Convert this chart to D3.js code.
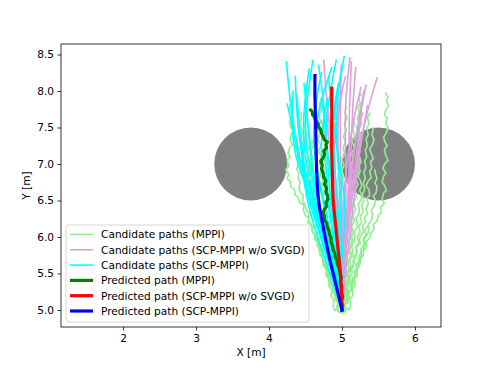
<!DOCTYPE html>
<html>
<head>
<meta charset="utf-8">
<script src="https://cdn.jsdelivr.net/npm/d3@7"></script>
<style>
	body { margin: 0; background: #fff; }
	text { font-family: "DejaVu Sans", sans-serif; }
</style>
</head>
<body>
<svg id="mainsvg" width="490" height="368"></svg>
<script>
var xTicks = [2, 3, 4, 5, 6];
var yTicks = [5.0, 5.5, 6.0, 6.5, 7.0, 7.5, 8.0, 8.5];

// obstacles: [cx, cy, r]
var obstacles = [[3.75, 7.0, 0.5], [5.5, 7.0, 0.5]];

var legendLabels = [
	"Candidate paths (MPPI)",
	"Candidate paths (SCP-MPPI w/o SVGD)",
	"Candidate paths (SCP-MPPI)",
	"Predicted path (MPPI)",
	"Predicted path (SCP-MPPI w/o SVGD)",
	"Predicted path (SCP-MPPI)"
];

// MPPI candidates (flat x,y lists)
var mppiCandidates = [
	[5,5, 4.98,5.04, 4.95,5.03, 4.94,5.1, 4.96,5.16, 4.91,5.2, 4.89,5.29, 4.9,5.33, 4.85,5.36, 4.83,5.45, 4.8,5.47, 4.81,5.55, 4.76,5.6, 4.77,5.64, 4.73,5.7, 4.71,5.79, 4.74,5.84, 4.69,5.86, 4.66,5.94, 4.63,5.96, 4.62,6.05, 4.59,6.07, 4.58,6.15, 4.53,6.2, 4.55,6.26, 4.5,6.29, 4.47,6.37, 4.48,6.44, 4.42,6.47, 4.4,6.55, 4.36,6.57, 4.35,6.65, 4.3,6.69, 4.29,6.76, 4.25,6.8, 4.27,6.86, 4.23,6.92, 4.27,6.97, 4.25,7.05, 4.29,7.1, 4.26,7.14, 4.28,7.22, 4.32,7.26, 4.29,7.33, 4.3,7.4, 4.34,7.45, 4.3,7.5, 4.28,7.58, 4.32,7.63, 4.31,7.7, 4.27,7.74, 4.3,7.82, 4.29,7.9],
	[5,5, 5.02,5.04, 5.05,5.05, 5.04,5.12, 5.08,5.16, 5.09,5.24, 5.13,5.27, 5.12,5.35, 5.16,5.39, 5.18,5.46, 5.17,5.53, 5.22,5.57, 5.25,5.64, 5.24,5.7, 5.29,5.74, 5.3,5.82, 5.34,5.86, 5.33,5.93, 5.38,5.99, 5.4,6.06, 5.44,6.1, 5.43,6.17, 5.48,6.22, 5.5,6.3, 5.54,6.33, 5.53,6.41, 5.58,6.46, 5.55,6.52, 5.57,6.6, 5.61,6.64, 5.58,6.71, 5.55,6.75, 5.57,6.83, 5.6,6.88, 5.56,6.94, 5.59,7.01, 5.63,7.05, 5.6,7.12, 5.58,7.2, 5.62,7.25, 5.59,7.3, 5.57,7.37, 5.61,7.43, 5.63,7.5, 5.6,7.56, 5.62,7.63, 5.58,7.67, 5.6,7.74, 5.64,7.8, 5.61,7.86, 5.63,7.92, 5.6,7.97],
	[5,5, 5.01,5.05, 4.99,5.1, 5.03,5.14, 5.04,5.22, 5.02,5.27, 5.06,5.31, 5.07,5.39, 5.11,5.42, 5.1,5.5, 5.13,5.56, 5.16,5.6, 5.15,5.68, 5.19,5.72, 5.21,5.8, 5.2,5.87, 5.25,5.9, 5.24,5.98, 5.27,6.04, 5.3,6.07, 5.28,6.15, 5.32,6.2, 5.31,6.28, 5.35,6.31, 5.33,6.39, 5.36,6.45, 5.34,6.53, 5.38,6.57, 5.37,6.65, 5.33,6.7, 5.36,6.77, 5.4,6.81, 5.38,6.9, 5.41,6.95, 5.39,7.03, 5.43,7.07, 5.4,7.15, 5.38,7.2, 5.42,7.27, 5.44,7.34, 5.41,7.4, 5.43,7.5],
	[5,5, 4.99,5.06, 4.96,5.09, 4.97,5.17, 4.93,5.21, 4.92,5.29, 4.94,5.34, 4.89,5.38, 4.88,5.46, 4.85,5.5, 4.86,5.58, 4.82,5.62, 4.8,5.7, 4.81,5.76, 4.77,5.8, 4.76,5.88, 4.73,5.93, 4.74,6.0, 4.7,6.05, 4.68,6.13, 4.69,6.19, 4.65,6.24, 4.63,6.32, 4.65,6.38, 4.6,6.42, 4.58,6.5, 4.59,6.57, 4.55,6.6, 4.53,6.68, 4.55,6.75, 4.51,6.8, 4.52,6.87, 4.49,6.92, 4.48,7.0, 4.51,7.06, 4.47,7.11, 4.46,7.19, 4.49,7.25, 4.45,7.3, 4.44,7.38, 4.47,7.44, 4.43,7.5, 4.42,7.57, 4.45,7.63, 4.44,7.7],
	[5,5, 5.01,5.07, 4.97,5.13, 4.99,5.22, 4.95,5.28, 4.96,5.37, 4.92,5.43, 4.93,5.52, 4.89,5.58, 4.9,5.67, 4.86,5.74, 4.87,5.83, 4.83,5.9, 4.84,5.99, 4.8,6.05, 4.82,6.14, 4.78,6.2, 4.8,6.3, 4.76,6.37, 4.78,6.46, 4.74,6.52, 4.76,6.62, 4.72,6.68, 4.74,6.78, 4.7,6.85, 4.73,6.94, 4.69,7.0, 4.72,7.1, 4.68,7.17, 4.71,7.26, 4.67,7.33, 4.7,7.42, 4.67,7.5, 4.71,7.58, 4.68,7.66, 4.72,7.74, 4.69,7.82, 4.72,7.9],
	[5,5, 5.02,5.07, 4.99,5.14, 5.02,5.22, 4.98,5.3, 5.01,5.38, 4.97,5.45, 5.0,5.54, 4.96,5.61, 4.99,5.7, 4.95,5.78, 4.98,5.86, 4.94,5.93, 4.97,6.02, 4.93,6.1, 4.97,6.18, 4.94,6.26, 4.98,6.34, 4.95,6.42, 4.99,6.5, 4.96,6.58, 5.0,6.66, 4.97,6.74, 5.02,6.82, 4.99,6.9, 5.03,6.98, 5.0,7.06, 5.04,7.14, 5.01,7.22, 5.05,7.3, 5.02,7.38, 5.06,7.46, 5.03,7.55, 5.07,7.63, 5.04,7.7, 5.06,7.78],
	[5,5, 5.01,5.06, 5.04,5.12, 5.02,5.2, 5.06,5.27, 5.05,5.35, 5.08,5.42, 5.06,5.5, 5.1,5.57, 5.08,5.66, 5.12,5.73, 5.1,5.82, 5.14,5.9, 5.12,5.98, 5.16,6.06, 5.13,6.14, 5.17,6.22, 5.15,6.3, 5.19,6.38, 5.16,6.47, 5.2,6.55, 5.18,6.64, 5.22,6.72, 5.19,6.8, 5.23,6.88, 5.2,6.97, 5.24,7.05, 5.21,7.14, 5.25,7.22, 5.22,7.3, 5.26,7.38, 5.23,7.47, 5.27,7.55, 5.24,7.63, 5.27,7.72, 5.25,7.8],
	[5,5, 4.98,5.06, 5.0,5.12, 4.97,5.2, 4.99,5.27, 4.95,5.34, 4.97,5.42, 4.93,5.48, 4.95,5.57, 4.91,5.63, 4.93,5.72, 4.89,5.79, 4.92,5.87, 4.88,5.94, 4.9,6.03, 4.86,6.1, 4.89,6.18, 4.85,6.26, 4.88,6.35, 4.84,6.42, 4.87,6.5, 4.83,6.58, 4.86,6.67, 4.83,6.75, 4.87,6.83, 4.84,6.92, 4.88,7.0, 4.85,7.08, 4.89,7.17, 4.86,7.25, 4.9,7.33, 4.87,7.42, 4.91,7.5, 4.88,7.58, 4.92,7.67, 4.89,7.75, 4.91,7.85],
	[5,5, 4.97,5.05, 4.98,5.12, 4.94,5.17, 4.95,5.26, 4.9,5.3, 4.91,5.39, 4.86,5.44, 4.88,5.53, 4.83,5.58, 4.84,5.67, 4.79,5.72, 4.81,5.8, 4.76,5.86, 4.77,5.95, 4.72,6.0, 4.74,6.09, 4.69,6.14, 4.71,6.23, 4.66,6.28, 4.68,6.37, 4.63,6.42, 4.65,6.51, 4.6,6.56, 4.62,6.65, 4.58,6.7, 4.6,6.8, 4.56,6.86, 4.59,6.95, 4.56,7.02, 4.6,7.1, 4.57,7.18, 4.61,7.25, 4.6,7.32],
	[5,5, 5.02,5.03, 5.04,5.1, 5.07,5.13, 5.07,5.21, 5.11,5.25, 5.13,5.33, 5.12,5.39, 5.16,5.43, 5.18,5.5, 5.21,5.54, 5.21,5.62, 5.25,5.66, 5.27,5.74, 5.26,5.8, 5.3,5.84, 5.32,5.92, 5.31,5.99, 5.35,6.03, 5.37,6.1, 5.36,6.17, 5.4,6.22, 5.42,6.3, 5.4,6.37, 5.44,6.42, 5.46,6.5, 5.43,6.56, 5.47,6.61, 5.48,6.69, 5.45,6.74, 5.48,6.8, 5.46,6.87, 5.45,6.92],
	[5,5, 4.97,5.03, 4.96,5.1, 4.93,5.13, 4.92,5.21, 4.88,5.25, 4.88,5.32, 4.84,5.36, 4.82,5.44, 4.83,5.5, 4.79,5.53, 4.77,5.61, 4.74,5.65, 4.74,5.73, 4.7,5.77, 4.68,5.85, 4.69,5.91, 4.65,5.95, 4.63,6.03, 4.6,6.07, 4.6,6.15, 4.56,6.19, 4.54,6.27, 4.55,6.33, 4.51,6.37, 4.49,6.45, 4.46,6.49, 4.47,6.57, 4.43,6.61, 4.41,6.69, 4.43,6.75, 4.4,6.8, 4.41,6.88, 4.38,6.93, 4.4,7.0, 4.42,7.06, 4.39,7.12, 4.4,7.19, 4.38,7.26],
	[5,5, 5.0,5.07, 5.03,5.14, 5.0,5.22, 5.04,5.3, 5.01,5.38, 5.05,5.46, 5.02,5.55, 5.06,5.62, 5.04,5.71, 5.08,5.78, 5.05,5.87, 5.09,5.94, 5.06,6.03, 5.1,6.1, 5.07,6.19, 5.11,6.26, 5.08,6.35, 5.12,6.42, 5.09,6.51, 5.13,6.58, 5.1,6.67, 5.14,6.74, 5.11,6.83, 5.15,6.9, 5.12,6.99, 5.16,7.06, 5.13,7.15, 5.17,7.22, 5.14,7.31, 5.18,7.38, 5.15,7.47, 5.17,7.55, 5.15,7.62],
	[5,5, 5.04,4.98, 5.07,5.03, 5.1,5.0, 5.12,5.07, 5.11,5.15, 5.15,5.2, 5.14,5.28, 5.18,5.33, 5.17,5.42, 5.21,5.47, 5.2,5.56, 5.24,5.61, 5.23,5.7, 5.27,5.75, 5.26,5.84, 5.3,5.89, 5.29,5.98, 5.33,6.03, 5.32,6.1, 5.36,6.16],
	[5,5, 4.96,4.97, 4.93,5.02, 4.9,4.99, 4.88,5.06, 4.89,5.14, 4.85,5.19, 4.86,5.28, 4.82,5.33, 4.83,5.42, 4.78,5.47, 4.79,5.56, 4.74,5.61, 4.75,5.7, 4.7,5.75, 4.71,5.84, 4.66,5.88, 4.67,5.97, 4.63,6.02],
	[5,5, 5.02,5.05, 4.99,5.11, 5.0,5.2, 4.96,5.25, 4.97,5.35, 4.93,5.41, 4.95,5.5, 4.91,5.56, 4.93,5.65, 4.89,5.71, 4.9,5.8, 4.87,5.86, 4.88,5.95, 4.85,6.01, 4.86,6.1, 4.82,6.16, 4.84,6.25, 4.8,6.31, 4.82,6.4, 4.78,6.46, 4.8,6.55, 4.77,6.61, 4.79,6.7, 4.76,6.76, 4.79,6.85, 4.75,6.91, 4.78,7.0, 4.75,7.06, 4.79,7.15, 4.76,7.21, 4.8,7.3, 4.77,7.36, 4.81,7.45, 4.78,7.51, 4.81,7.6, 4.8,7.66],
	[5,5, 5.02,5.06, 5.05,5.1, 5.04,5.18, 5.08,5.23, 5.08,5.31, 5.11,5.37, 5.1,5.45, 5.14,5.5, 5.13,5.59, 5.17,5.64, 5.16,5.73, 5.2,5.78, 5.19,5.87, 5.23,5.92, 5.21,6.01, 5.25,6.06, 5.23,6.15, 5.27,6.2, 5.25,6.29, 5.29,6.34, 5.27,6.43, 5.3,6.5, 5.28,6.58, 5.31,6.65, 5.29,6.74, 5.32,6.8, 5.3,6.89, 5.33,6.95, 5.31,7.04, 5.34,7.1, 5.32,7.19, 5.35,7.25, 5.33,7.34, 5.36,7.4, 5.34,7.49, 5.37,7.55, 5.35,7.63, 5.38,7.7],
	[5,5, 4.98,4.96, 4.95,4.98, 4.93,5.05, 4.95,5.1, 4.91,5.14, 4.9,5.22, 4.86,5.25, 4.87,5.33, 4.83,5.37, 4.81,5.45, 4.83,5.5, 4.79,5.55, 4.77,5.63, 4.74,5.66, 4.75,5.74, 4.72,5.78],
	[5,5, 5.03,4.96, 5.05,5.0, 5.04,5.07, 5.08,5.1, 5.1,5.18, 5.09,5.25, 5.13,5.28, 5.15,5.36, 5.14,5.43, 5.18,5.47, 5.2,5.55, 5.19,5.62, 5.23,5.66, 5.24,5.74, 5.26,5.8],
	[5,5, 5.01,4.95, 5.03,5.01, 5.0,5.06, 5.02,5.13, 5.05,5.17, 5.03,5.25, 5.06,5.3, 5.05,5.38, 5.09,5.43, 5.07,5.5, 5.1,5.57, 5.08,5.63, 5.11,5.7, 5.13,5.77, 5.1,5.83, 5.12,5.9, 5.15,5.96, 5.12,6.02, 5.14,6.1, 5.11,6.16, 5.13,6.24, 5.16,6.3, 5.13,6.36, 5.15,6.44, 5.12,6.5, 5.1,6.58, 5.13,6.64, 5.11,6.72, 5.08,6.78, 5.11,6.85, 5.1,6.92],
	[5,5, 4.97,5.06, 4.98,5.14, 4.95,5.2, 4.93,5.28, 4.94,5.35, 4.9,5.41, 4.89,5.49, 4.85,5.54, 4.86,5.62, 4.82,5.67, 4.8,5.75, 4.81,5.82, 4.77,5.87, 4.75,5.95, 4.76,6.02, 4.72,6.08, 4.7,6.16, 4.71,6.23, 4.67,6.28, 4.65,6.36, 4.66,6.43, 4.62,6.48, 4.6,6.56, 4.62,6.63, 4.58,6.68, 4.57,6.76, 4.59,6.83, 4.55,6.88, 4.54,6.96, 4.57,7.02, 4.53,7.08, 4.52,7.16, 4.55,7.22, 4.51,7.28, 4.5,7.36, 4.53,7.42, 4.5,7.48, 4.49,7.56, 4.52,7.62, 4.49,7.68, 4.5,7.76, 4.53,7.82, 4.5,7.88, 4.52,7.95],
	[5,5, 5.02,5.05, 5.01,5.12, 5.05,5.17, 5.06,5.25, 5.04,5.31, 5.08,5.36, 5.09,5.44, 5.07,5.5, 5.11,5.55, 5.12,5.63, 5.1,5.69, 5.14,5.74, 5.15,5.82, 5.13,5.88, 5.17,5.93, 5.18,6.01, 5.16,6.07, 5.2,6.12, 5.21,6.2, 5.19,6.26, 5.23,6.31, 5.24,6.39, 5.22,6.45, 5.26,6.5, 5.27,6.58, 5.24,6.64, 5.27,6.7, 5.25,6.78, 5.22,6.83, 5.25,6.9, 5.23,6.97, 5.26,7.03, 5.24,7.1, 5.21,7.16, 5.24,7.23, 5.22,7.3, 5.25,7.36, 5.23,7.43, 5.2,7.5, 5.23,7.56, 5.21,7.63, 5.24,7.7, 5.22,7.77, 5.25,7.83, 5.23,7.9, 5.26,7.96]
];

// SCP-MPPI w/o SVGD candidates (control points)
var noSvgdCandidates = [
	[[5,5],[4.98,5.7],[4.93,6.4],[4.88,7.1],[4.8,7.8],[4.75,8.42]],
	[[5,5],[5.02,5.7],[5.05,6.4],[5.05,7.1],[5.05,7.8],[5.11,8.45]],
	[[5,5],[5.03,5.7],[5.08,6.4],[5.12,7.1],[5.15,7.8],[5.19,8.32]],
	[[5,5],[5.05,5.7],[5.12,6.4],[5.2,7.0],[5.32,7.6],[5.48,8.18]],
	[[5,5],[5.0,5.7],[5.0,6.4],[4.98,7.1],[4.98,7.8],[4.99,8.35]],
	[[5,5],[5.04,5.7],[5.1,6.4],[5.16,7.1],[5.25,7.7],[5.3,8.0]],
	[[5,5],[4.93,5.6],[4.75,6.2],[4.52,6.8],[4.47,7.1],[4.5,7.4]],
	[[5,5],[5.01,5.7],[5.02,6.4],[5.08,7.1],[5.18,7.7],[5.26,8.05]],
	[[5,5],[5.0,5.7],[4.98,6.4],[4.95,7.1],[4.95,7.6],[5.0,8.0]],
	[[5,5],[5.06,5.6],[5.14,6.3],[5.22,7.0],[5.3,7.5],[5.35,7.8]],
	[[5,5],[4.98,5.7],[4.92,6.4],[4.9,7.0],[4.92,7.6],[5.05,8.2]],
	[[5,5],[5.02,5.7],[5.07,6.4],[5.1,7.0],[5.1,7.6],[5.13,8.4]],
	[[5,5],[4.99,5.7],[4.96,6.4],[4.85,7.1],[4.8,7.6],[4.8,7.9]],
	[[5,5],[5.04,5.7],[5.12,6.4],[5.22,7.1],[5.28,7.45]],
	[[5,5],[5.03,5.7],[5.1,6.4],[5.18,7.0],[5.24,7.5],[5.28,7.7]],
	[[5,5],[5.0,5.6],[4.95,6.2],[4.86,6.8],[4.78,7.3],[4.72,7.6]],
	[[5,5],[5.02,5.6],[5.06,6.2],[5.12,6.8],[5.2,7.4],[5.33,8.08]]
];

// SCP-MPPI candidates (control points)
var scpCandidates = [
	[[5,5],[4.82,5.7],[4.6,6.4],[4.42,7.1],[4.3,7.8],[4.24,8.4]],
	[[5,5],[4.8,5.7],[4.55,6.5],[4.38,7.2],[4.3,7.6],[4.25,7.82]],
	[[5,5],[4.85,5.7],[4.65,6.4],[4.5,7.1],[4.48,7.7],[4.55,8.3]],
	[[5,5],[4.88,5.6],[4.7,6.3],[4.55,7.0],[4.5,7.6],[4.6,8.42]],
	[[5,5],[4.9,5.6],[4.78,6.3],[4.65,7.0],[4.68,7.7],[4.86,8.32]],
	[[5,5],[4.93,5.6],[4.84,6.3],[4.78,7.0],[4.8,7.7],[4.92,8.42]],
	[[5,5],[4.95,5.6],[4.9,6.3],[4.85,7.0],[4.9,7.7],[5.03,8.47]],
	[[5,5],[4.86,5.6],[4.62,6.4],[4.4,7.0],[4.32,7.5],[4.33,8.0]],
	[[5,5],[4.87,5.7],[4.7,6.4],[4.58,7.1],[4.52,7.7],[4.48,8.1]],
	[[5,5],[4.9,5.7],[4.75,6.5],[4.62,7.2],[4.64,7.8],[4.72,8.25]],
	[[5,5],[4.98,5.6],[4.95,6.3],[4.9,7.0],[4.88,7.6],[4.95,8.1]],
	[[5,5],[5.0,5.7],[5.04,6.4],[4.95,7.1],[4.85,7.8],[4.82,8.2]],
	[[5,5],[4.84,5.7],[4.58,6.5],[4.47,7.0],[4.42,7.5],[4.38,7.95]],
	[[5,5],[4.9,5.6],[4.72,6.3],[4.6,6.9],[4.55,7.4],[4.52,7.6]],
	[[5,5],[4.93,5.7],[4.82,6.4],[4.72,7.1],[4.75,7.6],[4.8,7.9]],
	[[5,5],[4.97,5.7],[4.9,6.5],[4.8,7.2],[4.75,7.8],[4.68,8.35]],
	[[5,5],[4.85,5.6],[4.66,6.3],[4.5,6.9],[4.4,7.5],[4.36,8.2]],
	[[5,5],[4.96,5.6],[4.88,6.2],[4.82,6.8],[4.78,7.4],[4.72,7.9]],
	[[5,5],[4.99,5.7],[4.98,6.5],[4.93,7.3],[4.95,8.0],[5.0,8.3]],
	[[5,5],[4.8,5.6],[4.55,6.4],[4.46,7.0],[4.45,7.3]]
];

var mppiPath = [[5.0,5.0],[5.01,5.06],[4.99,5.12],[5.01,5.18],[4.99,5.25],[5.0,5.32],[4.98,5.38],[4.99,5.45],[4.97,5.52],[4.96,5.58],[4.94,5.62],[4.93,5.68],[4.91,5.72],[4.9,5.78],[4.88,5.82],[4.87,5.88],[4.85,5.93],[4.85,5.99],[4.83,6.03],[4.82,6.09],[4.8,6.13],[4.79,6.19],[4.76,6.23],[4.76,6.29],[4.74,6.33],[4.76,6.38],[4.79,6.42],[4.78,6.47],[4.81,6.52],[4.8,6.57],[4.78,6.62],[4.79,6.67],[4.76,6.72],[4.78,6.77],[4.75,6.82],[4.74,6.88],[4.72,6.93],[4.73,6.99],[4.71,7.04],[4.74,7.08],[4.76,7.13],[4.75,7.18],[4.79,7.22],[4.78,7.27],[4.8,7.3],[4.76,7.33],[4.74,7.38],[4.72,7.42],[4.71,7.47],[4.68,7.51],[4.67,7.56],[4.64,7.6],[4.62,7.65],[4.6,7.67],[4.59,7.72],[4.57,7.74]];
var noSvgdPath = [[5.0,5.0],[4.99,5.3],[4.97,5.6],[4.94,5.9],[4.91,6.2],[4.88,6.5],[4.87,6.8],[4.86,7.2],[4.86,7.6],[4.86,8.04]];
var scpPath = [[5.0,5.0],[4.94,5.25],[4.88,5.5],[4.82,5.75],[4.77,6.0],[4.72,6.25],[4.68,6.5],[4.66,6.75],[4.65,7.0],[4.64,7.5],[4.63,7.9],[4.63,8.21]];

var colors = ["#90ee90", "#dda0dd", "#00ffff", "#008000", "#ff0000", "#0000ff"];

var margin = {left: 61, top: 44, right: 49, bottom: 41};
var W = 490, H = 368;
var iw = W - margin.left - margin.right, ih = H - margin.top - margin.bottom;

var svg = d3.select("#mainsvg");
var x = d3.scaleLinear().domain([1.15, 6.357]).range([margin.left, margin.left + iw]);
var y = d3.scaleLinear().domain([4.767, 8.644]).range([margin.top + ih, margin.top]);

svg.append("clipPath").attr("id", "plotclip")
	.append("rect")
	.attr("x", margin.left).attr("y", margin.top)
	.attr("width", iw).attr("height", ih);

var plot = svg.append("g").attr("clip-path", "url(#plotclip)");

plot.selectAll("circle.obs")
	.data(obstacles)
	.enter().append("circle")
	.attr("class", "obs")
	.attr("cx", function(d) { return x(d[0]); })
	.attr("cy", function(d) { return y(d[1]); })
	.attr("r", function(d) { return x(d[0] + d[2]) - x(d[0]); })
	.style("fill", "#808080");

function pairs(flat) {
	var out = [];
	for (var i = 0; i < flat.length; i += 2) out.push([flat[i], flat[i + 1]]);
	return out;
}

var rough = d3.line()
	.x(function(d) { return x(d[0]); })
	.y(function(d) { return y(d[1]); });
var smooth = d3.line()
	.x(function(d) { return x(d[0]); })
	.y(function(d) { return y(d[1]); })
	.curve(d3.curveNatural);

function drawSet(data, gen, color, width) {
	plot.append("g")
		.selectAll("path")
		.data(data)
		.enter().append("path")
		.attr("d", gen)
		.style("fill", "none")
		.style("stroke", color)
		.style("stroke-width", width)
		.style("stroke-linejoin", "round")
		.style("stroke-linecap", "square");
}

drawSet(mppiCandidates.map(pairs), rough, colors[0], 1.6);
drawSet(noSvgdCandidates, smooth, colors[1], 1.6);
drawSet(scpCandidates, smooth, colors[2], 1.6);
drawSet([mppiPath], rough, colors[3], 3.2);
drawSet([noSvgdPath], smooth, colors[4], 3.2);
drawSet([scpPath], smooth, colors[5], 3.2);

// axes
var xAxis = d3.axisBottom(x).tickValues(xTicks).tickFormat(d3.format("d")).tickSize(3.5).tickPadding(3.5);
var yAxis = d3.axisLeft(y).tickValues(yTicks).tickFormat(d3.format(".1f")).tickSize(3.5).tickPadding(3.5);

var gx = svg.append("g").attr("transform", "translate(0," + (margin.top + ih) + ")").call(xAxis);
var gy = svg.append("g").attr("transform", "translate(" + margin.left + ",0)").call(yAxis);
[gx, gy].forEach(function(g) {
	g.select(".domain").remove();
	g.selectAll("line").attr("stroke", "#000").attr("stroke-width", 0.8);
	g.selectAll("text").attr("fill", "#000").style("font-size", "10.6px").style("font-family", "DejaVu Sans");
});

svg.append("rect")
	.attr("x", margin.left).attr("y", margin.top)
	.attr("width", iw).attr("height", ih)
	.style("fill", "none").style("stroke", "#000").style("stroke-width", 0.8);

svg.append("text")
	.attr("x", margin.left + iw / 2).attr("y", 356)
	.attr("text-anchor", "middle")
	.style("font-size", "10.6px")
	.text("X [m]");

svg.append("text")
	.attr("transform", "translate(30," + (margin.top + ih / 2) + ") rotate(-90)")
	.attr("text-anchor", "middle")
	.style("font-size", "10.6px")
	.text("Y [m]");

// legend
var legend = svg.append("g").attr("transform", "translate(66,225)");
legend.append("rect")
	.attr("width", 243).attr("height", 97)
	.attr("rx", 3).attr("ry", 3)
	.style("fill", "#fff").style("fill-opacity", 0.8)
	.style("stroke", "#cccccc").style("stroke-width", 0.8);

var item = legend.selectAll("g.item")
	.data(legendLabels)
	.enter().append("g")
	.attr("class", "item")
	.attr("transform", function(d, i) { return "translate(0," + (9.5 + i * 15.3) + ")"; });

item.append("line")
	.attr("x1", 4).attr("x2", 27)
	.style("stroke", function(d, i) { return colors[i]; })
	.style("stroke-width", function(d, i) { return i < 3 ? 1.6 : 3.2; });

item.append("text")
	.attr("x", 35).attr("dy", "0.36em")
	.style("font-size", "10.6px")
	.text(function(d) { return d; });
</script>
</body>
</html>
